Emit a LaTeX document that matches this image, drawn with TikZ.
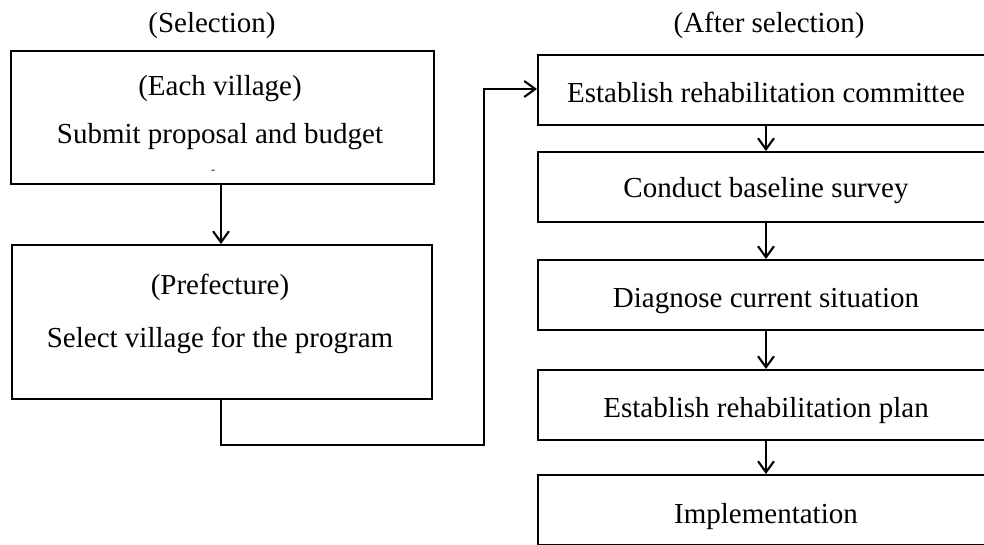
\documentclass[tikz,border=0pt]{standalone}
\usepackage{fontspec}
\setmainfont{Liberation Serif}
\usetikzlibrary{arrows.meta}
\begin{document}
\begin{tikzpicture}[x=1pt,y=-1pt,
  box/.style={draw=black,line width=1.9pt,inner sep=0pt,anchor=north west},
  txt/.style={anchor=base,inner sep=0pt,font=\fontsize{29}{34}\selectfont},
  conn/.style={draw=black,line width=2.1pt,-{Straight Barb[length=11pt,width=16pt,line width=2.1pt]}}
]
\clip (0,0) rectangle (984,545);
% titles
\node[txt] (t1) at (212,33) {(Selection)};
\node[txt] (t2) at (769,33) {(After selection)};
% left boxes
\node[box,minimum width=423pt,minimum height=133pt] (L1) at (10,50) {};
\node[txt] (L1a) at (220,96) {(Each village)};
\node[txt] (L1b) at (220,144) {Submit proposal and budget};
\node[anchor=center,inner sep=0pt,font=\fontsize{12}{14}\selectfont] (L1c) at (213,172) {-};
\node[box,minimum width=420pt,minimum height=154pt] (L2) at (11,244) {};
\node[txt] (L2a) at (220,294) {(Prefecture)};
\node[txt] (L2b) at (220,347) {Select village for the program};
% right boxes
\node[box,minimum width=458pt,minimum height=70pt] (R1) at (537,54) {};
\node[txt] (R1t) at (766,103) {Establish rehabilitation committee};
\node[box,minimum width=458pt,minimum height=70pt] (R2) at (537,151) {};
\node[txt] (R2t) at (766,198) {Conduct baseline survey};
\node[box,minimum width=458pt,minimum height=70pt] (R3) at (537,259) {};
\node[txt] (R3t) at (766,307) {Diagnose current situation};
\node[box,minimum width=458pt,minimum height=70pt] (R4) at (537,369) {};
\node[txt] (R4t) at (766,417) {Establish rehabilitation plan};
\node[box,minimum width=458pt,minimum height=70pt] (R5) at (537,474) {};
\node[txt] (R5t) at (766,523) {Implementation};
% connectors
\draw[conn] (L1.south -| 221,0) -- (L2.north -| 221,0);
\coordinate (c1) at (221,445);
\coordinate (c2) at (484,445);
\coordinate (c3) at (484,89);
\draw[conn] (L2.south -| c1) -- (c1) -- (c2) -- (c3) -- (R1.west |- c3);
\draw[conn] (R1.south -| 766,0) -- (R2.north -| 766,0);
\draw[conn] (R2.south -| 766,0) -- (R3.north -| 766,0);
\draw[conn] (R3.south -| 766,0) -- (R4.north -| 766,0);
\draw[conn] (R4.south -| 766,0) -- (R5.north -| 766,0);
\end{tikzpicture}
\end{document}
